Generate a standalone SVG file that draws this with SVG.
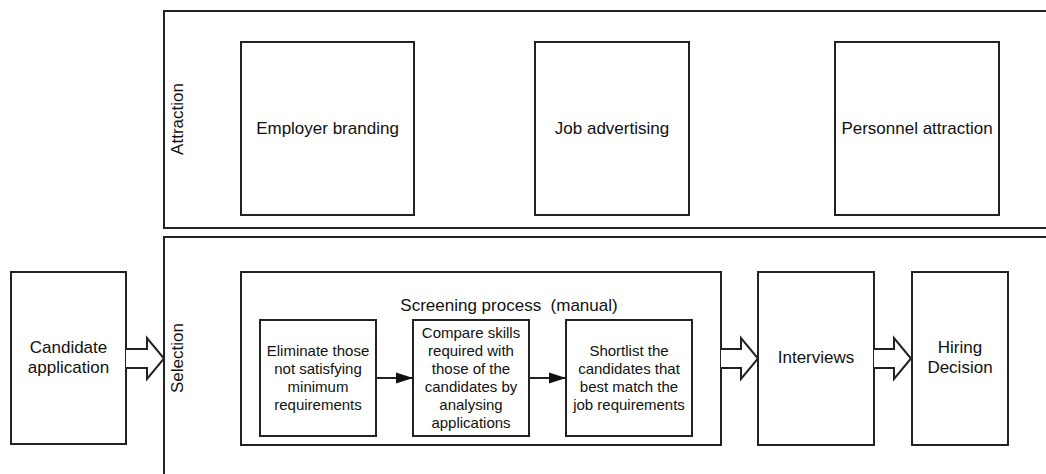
<svg xmlns="http://www.w3.org/2000/svg" width="1046" height="474" viewBox="0 0 1046 474">
<style>
.b{fill:#fff;stroke:#222;stroke-width:2}
.ln{fill:none;stroke:#222;stroke-width:2}
.t{font-family:"Liberation Sans",Arial,sans-serif;font-size:17px;fill:#111;text-anchor:middle;dominant-baseline:central}
.s{font-family:"Liberation Sans",Arial,sans-serif;font-size:15px;fill:#111;text-anchor:middle;dominant-baseline:central}
.ba{fill:#fff;stroke:#222;stroke-width:2;stroke-linejoin:miter}
</style>
<defs>
<marker id="ah" markerWidth="17" markerHeight="12" refX="16" refY="6" orient="auto" markerUnits="userSpaceOnUse">
<path d="M0,0.5 L17,6 L0,11.5 Z" fill="#111"/>
</marker>
</defs>
<rect width="1046" height="474" fill="#fff"/>
<g id="lane-attraction">
<path class="ln" d="M1050,11 H164 V228 H1050"/>
<text class="t" transform="translate(177,119) rotate(-90)">Attraction</text>
</g>
<g id="lane-selection">
<path class="ln" d="M1050,237 H164 V476"/>
<text class="t" transform="translate(177,358) rotate(-90)">Selection</text>
</g>
<g id="employer-branding">
<rect class="b" x="241" y="42" width="173" height="173"/>
<text class="t" x="327.5" y="128">Employer branding</text>
</g>
<g id="job-advertising">
<rect class="b" x="535" y="42" width="154" height="173"/>
<text class="t" x="612" y="128">Job advertising</text>
</g>
<g id="personnel-attraction">
<rect class="b" x="835" y="42" width="164" height="173"/>
<text class="t" x="917" y="128">Personnel attraction</text>
</g>
<g id="candidate-application">
<rect class="b" x="11" y="272" width="115" height="172"/>
<text class="t" x="68.5" y="347">Candidate</text>
<text class="t" x="68.5" y="367">application</text>
</g>
<g id="screening-process">
<rect class="b" x="241" y="272" width="480" height="173"/>
<text class="t" x="509" y="305" xml:space="preserve">Screening process  (manual)</text>
</g>
<g id="eliminate">
<rect class="b" x="260" y="320" width="116" height="116"/>
<text class="s" x="318" y="350">Eliminate those</text>
<text class="s" x="318" y="368">not satisfying</text>
<text class="s" x="318" y="386">minimum</text>
<text class="s" x="318" y="404">requirements</text>
</g>
<g id="compare">
<rect class="b" x="413" y="320" width="116" height="116"/>
<text class="s" x="471" y="332">Compare skills</text>
<text class="s" x="471" y="350">required with</text>
<text class="s" x="471" y="368">those of the</text>
<text class="s" x="471" y="386">candidates by</text>
<text class="s" x="471" y="404">analysing</text>
<text class="s" x="471" y="422">applications</text>
</g>
<g id="shortlist">
<rect class="b" x="566" y="320" width="126" height="116"/>
<text class="s" x="629" y="350">Shortlist the</text>
<text class="s" x="629" y="368">candidates that</text>
<text class="s" x="629" y="386">best match the</text>
<text class="s" x="629" y="404">job requirements</text>
</g>
<g id="interviews">
<rect class="b" x="758" y="272" width="116" height="173"/>
<text class="t" x="816" y="357">Interviews</text>
</g>
<g id="hiring-decision">
<rect class="b" x="912" y="272" width="96" height="173"/>
<text class="t" x="960" y="347">Hiring</text>
<text class="t" x="960" y="367">Decision</text>
</g>
<g id="connectors">
<path class="ba" d="M126,349 H147 V338 L164,358.5 L147,379 V368 H126"/>
<path class="ba" d="M721,349 H741 V338 L758,358.5 L741,379 V368 H721"/>
<path class="ba" d="M874,349 H894 V338 L911,358.5 L894,379 V368 H874"/>
<line class="ln" x1="377" y1="378" x2="412" y2="378" marker-end="url(#ah)"/>
<line class="ln" x1="530" y1="378" x2="565" y2="378" marker-end="url(#ah)"/>
</g>
</svg>
